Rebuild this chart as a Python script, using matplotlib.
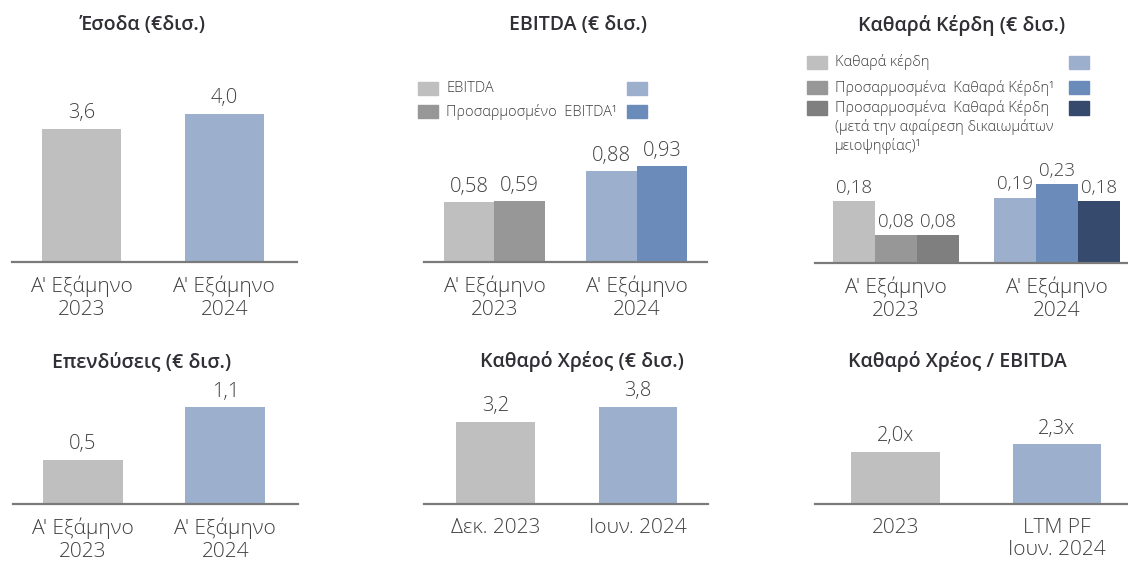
import matplotlib
matplotlib.use("Agg")
import matplotlib.pyplot as plt
from matplotlib.patches import Rectangle

plt.rcParams['font.family'] = ['Open Sans', 'DejaVu Sans']

W, H = 1128, 561

# ---------------- data ----------------
rev_cats = ["Α' Εξάμηνο\n2023", "Α' Εξάμηνο\n2024"]
rev_vals = [3.6, 4.0]
rev_labels = ["3,6", "4,0"]

ebitda_cats = ["Α' Εξάμηνο\n2023", "Α' Εξάμηνο\n2024"]
ebitda_vals = [0.58, 0.88]
adj_ebitda_vals = [0.59, 0.93]
ebitda_labels = ["0,58", "0,88"]
adj_ebitda_labels = ["0,59", "0,93"]

np_cats = ["Α' Εξάμηνο\n2023", "Α' Εξάμηνο\n2024"]
np_vals = [0.18, 0.19]
adj_np_vals = [0.08, 0.23]
adj_np_mi_vals = [0.08, 0.18]
np_labels = ["0,18", "0,19"]
adj_np_labels = ["0,08", "0,23"]
adj_np_mi_labels = ["0,08", "0,18"]

capex_cats = ["Α' Εξάμηνο\n2023", "Α' Εξάμηνο\n2024"]
capex_vals = [0.5, 1.1]
capex_labels = ["0,5", "1,1"]

debt_cats = ["Δεκ. 2023", "Ιουν. 2024"]
debt_vals = [3.2, 3.8]
debt_labels = ["3,2", "3,8"]

lev_cats = ["2023", "LTM PF\nΙουν. 2024"]
lev_vals = [2.0, 2.3]
lev_labels = ["2,0x", "2,3x"]

titles = ["Έσοδα (€δισ.)", "EBITDA (€ δισ.)", "Καθαρά Κέρδη (€ δισ.)",
          "Επενδύσεις (€ δισ.)", "Καθαρό Χρέος (€ δισ.)", "Καθαρό Χρέος / EBITDA"]

# ---------------- styles ----------------
C_GREY1 = "#BFBFBF"
C_GREY2 = "#979797"
C_GREY3 = "#7F7F7F"
C_BLUE1 = "#9CB0CE"
C_BLUE2 = "#6B8CBA"
C_BLUE3 = "#354A6C"
TXT = "#404040"
TITLE = "#2F2F35"
AXC = "#7A7A7A"

fig = plt.figure(figsize=(W / 100, H / 100), dpi=100)
fig.patch.set_facecolor("white")


def fx(x):
    return x / W


def fy(y):
    return 1 - y / H


def make_ax(l, r, top, base, xlim, ytop):
    ax = fig.add_axes([fx(l), fy(base), (r - l) / W, (base - top) / H])
    ax.set_xlim(*xlim)
    ax.set_ylim(0, ytop)
    for s in ["top", "right", "left"]:
        ax.spines[s].set_visible(False)
    ax.spines["bottom"].set_color(AXC)
    ax.spines["bottom"].set_linewidth(1.6)
    ax.set_yticks([])
    ax.tick_params(axis="x", length=0, pad=10, labelsize=15, labelcolor=TXT)
    ax.patch.set_alpha(0)
    return ax


def set_cats(ax, cats):
    ax.set_xticks(range(len(cats)))
    ax.set_xticklabels(cats, fontsize=15, color=TXT, linespacing=1.15,
                       fontweight="light")


def add_labels(ax, bars, labels, size=14.5, pad=4):
    ax.bar_label(bars, labels=labels, padding=pad, fontsize=size, color=TXT,
                 fontweight="light")


def title(cx, cy, t):
    fig.text(fx(cx), fy(cy), t, ha="center", va="center", fontsize=14,
             color=TITLE, fontweight="semibold")


def legend_row(x, y, color_left, color_right, xr, text, size=10.5):
    fig.patches.append(Rectangle((fx(x), fy(y + 6.5)), 20 / W, 13 / H,
                                 transform=fig.transFigure, color=color_left))
    fig.patches.append(Rectangle((fx(xr), fy(y + 6.5)), 20 / W, 13 / H,
                                 transform=fig.transFigure, color=color_right))
    fig.text(fx(x + 28), fy(y), text, ha="left", va="center",
             fontsize=size, color=TXT, fontweight="light")


# ---------- Panel 1: revenue ----------
ax1 = make_ax(12, 297, 40, 262, (-0.49, 1.51), 6.0)
b = ax1.bar(range(2), rev_vals, width=0.555, color=[C_GREY1, C_BLUE1])
add_labels(ax1, b, rev_labels)
set_cats(ax1, rev_cats)
title(143, 25, titles[0])

# ---------- Panel 2: EBITDA ----------
ax2 = make_ax(424, 707, 40, 262, (-0.496, 1.496), 2.155)
bw = 0.356
x = list(range(2))
b1 = ax2.bar([i - bw / 2 for i in x], ebitda_vals, width=bw, color=[C_GREY1, C_BLUE1])
b2 = ax2.bar([i + bw / 2 for i in x], adj_ebitda_vals, width=bw, color=[C_GREY2, C_BLUE2])
add_labels(ax2, b1, ebitda_labels)
add_labels(ax2, b2, adj_ebitda_labels)
set_cats(ax2, ebitda_cats)
title(578, 25, titles[1])
legend_row(418, 88.5, C_GREY1, C_BLUE1, 627, "EBITDA")
legend_row(418, 111.5, C_GREY2, C_BLUE2, 627, "Προσαρμοσμένο  EBITDA¹")

# ---------- Panel 3: Net profit ----------
ax3 = make_ax(815, 1128, 40, 263, (-0.503, 1.44), 0.648)
bw3 = 0.262
b1 = ax3.bar([i - bw3 for i in x], np_vals, width=bw3, color=[C_GREY1, C_BLUE1])
b2 = ax3.bar(x, adj_np_vals, width=bw3, color=[C_GREY2, C_BLUE2])
b3 = ax3.bar([i + bw3 for i in x], adj_np_mi_vals, width=bw3, color=[C_GREY3, C_BLUE3])
add_labels(ax3, b1, np_labels, size=13.5, pad=3)
add_labels(ax3, b2, adj_np_labels, size=13.5, pad=3)
add_labels(ax3, b3, adj_np_mi_labels, size=13.5, pad=3)
set_cats(ax3, np_cats)
title(962, 25, titles[2])
legend_row(807, 62.5, C_GREY1, C_BLUE1, 1069, "Καθαρά κέρδη")
legend_row(807, 87.5, C_GREY2, C_BLUE2, 1069, "Προσαρμοσμένα  Καθαρά Κέρδη¹")
legend_row(807, 108, C_GREY3, C_BLUE3, 1069, "Προσαρμοσμένα  Καθαρά Κέρδη")
fig.text(fx(835), fy(127), "(μετά την αφαίρεση δικαιωμάτων", ha="left", va="center",
         fontsize=10.5, color=TXT, fontweight="light")
fig.text(fx(835), fy(146), "μειοψηφίας)¹", ha="left", va="center",
         fontsize=10.5, color=TXT, fontweight="light")

# ---------- Panel 4: Capex ----------
ax4 = make_ax(13, 298, 380, 504, (-0.49, 1.51), 1.41)
b = ax4.bar(range(2), capex_vals, width=0.56, color=[C_GREY1, C_BLUE1])
add_labels(ax4, b, capex_labels)
set_cats(ax4, capex_cats)
title(142, 362, titles[3])

# ---------- Panel 5: Net debt ----------
ax5 = make_ax(424, 708, 380, 504, (-0.50, 1.49), 4.84)
b = ax5.bar(range(2), debt_vals, width=0.55, color=[C_GREY1, C_BLUE1])
add_labels(ax5, b, debt_labels)
set_cats(ax5, debt_cats)
title(582, 362, titles[4])

# ---------- Panel 6: Leverage ----------
ax6 = make_ax(815, 1128, 380, 504, (-0.498, 1.44), 4.77)
b = ax6.bar(range(2), lev_vals, width=0.55, color=[C_GREY1, C_BLUE1])
add_labels(ax6, b, lev_labels)
set_cats(ax6, lev_cats)
title(957, 362, titles[5])

fig.savefig("out.png", dpi=100, facecolor="white")
